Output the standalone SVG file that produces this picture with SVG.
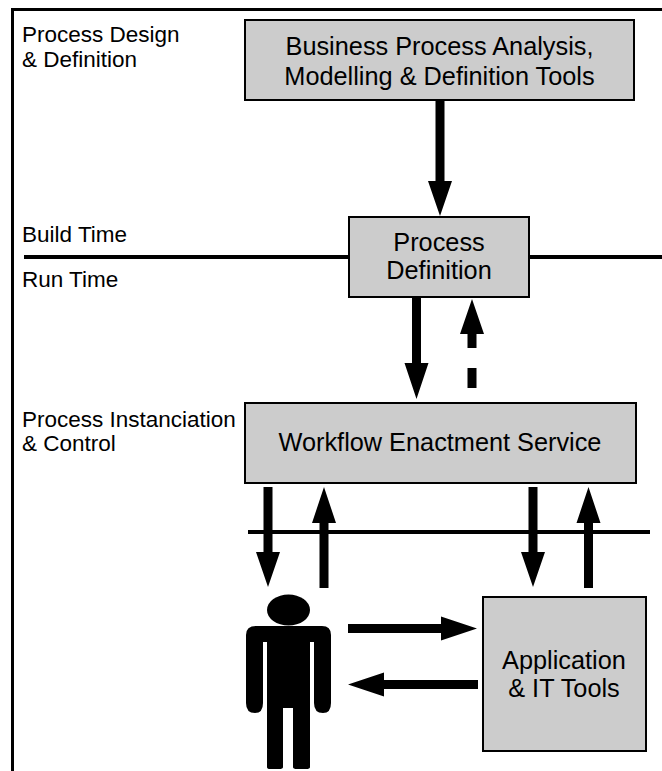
<svg xmlns="http://www.w3.org/2000/svg" width="662" height="771" viewBox="0 0 662 771">
<style>
.b{fill:#ccc;stroke:#000;stroke-width:2}
.t{font-family:"Liberation Sans",Arial,sans-serif;fill:#000}
.l{font-size:22.5px}
.n{font-size:25.3px;text-anchor:middle}
.c{fill:none;stroke:#000}
.a{fill:#000;stroke:none}
</style>
<rect width="662" height="771" fill="#fff"/>
<g id="frame"><path class="c" stroke-width="3" d="M12.500 771V9.500H662"/></g>
<g id="labels">
<text class="t l" x="22" y="42">Process Design</text>
<text class="t l" x="22" y="67">&amp; Definition</text>
<text class="t l" x="22" y="242">Build Time</text>
<text class="t l" x="22" y="287">Run Time</text>
<text class="t l" x="22" y="427">Process Instanciation</text>
<text class="t l" x="22" y="451">&amp; Control</text>
</g>
<g id="connectors">
<path class="c" stroke-width="4" d="M24 257H349M530 257H662"/>
<path class="c" stroke-width="4" d="M248 532H650"/>
<path class="a" d="M435.500 100h9v81h7.500l-12 35-12-35h7.500z"/>
<path class="a" d="M412 297h9v66h7.500l-12 36-12-36h7.500z"/>
<path class="a" d="M472 299l12 35h-7.500v14h-9v-14h-7.500zM467.500 368h9v20h-9z"/>
<path class="a" d="M263.500 487h9v65h7.500l-12 35-12-35h7.500z"/>
<path class="a" d="M324 487l12 36h-7.500v65h-9v-65h-7.500z"/>
<path class="a" d="M528.500 487h9v65h7.500l-12 35-12-35h7.500z"/>
<path class="a" d="M588.500 487l12 36h-7.500v65h-9v-65h-7.500z"/>
<path class="a" d="M348 624h93v-7.500l36 12-36 12v-7.500h-93z"/>
<path class="a" d="M478 680h-94v-7.500l-36 12 36 12v-7.500h94z"/>
</g>
<g id="analysis-tools"><rect class="b" x="245" y="20" width="389" height="80"/>
<text class="t n" x="439.500" y="55">Business Process Analysis,</text>
<text class="t n" x="439.500" y="85">Modelling &amp; Definition Tools</text></g>
<g id="process-definition"><rect class="b" x="349" y="217" width="180" height="80"/>
<text class="t n" x="439" y="251">Process</text>
<text class="t n" x="439" y="279">Definition</text></g>
<g id="enactment-service"><rect class="b" x="245" y="403" width="391" height="80"/>
<text class="t n" x="440" y="451">Workflow Enactment Service</text></g>
<g id="application-tools"><rect class="b" x="483" y="597" width="163" height="154"/>
<text class="t n" x="564" y="669">Application</text>
<text class="t n" x="564" y="697">&amp; IT Tools</text></g>
<g id="person">
<ellipse class="a" cx="288.500" cy="610" rx="21.500" ry="15.500"/>
<path class="a" d="M256 626H322Q331 626 331 635V703Q331 713 323 713Q314 713 314 703V642H310V767Q310 769 306 769H297Q293 769 293 767V708H283V767Q283 769 279 769H270Q267 769 267 767V642H263V703Q263 713 255 713Q246 713 246 703V635Q246 626 256 626Z"/>
</g>
</svg>
